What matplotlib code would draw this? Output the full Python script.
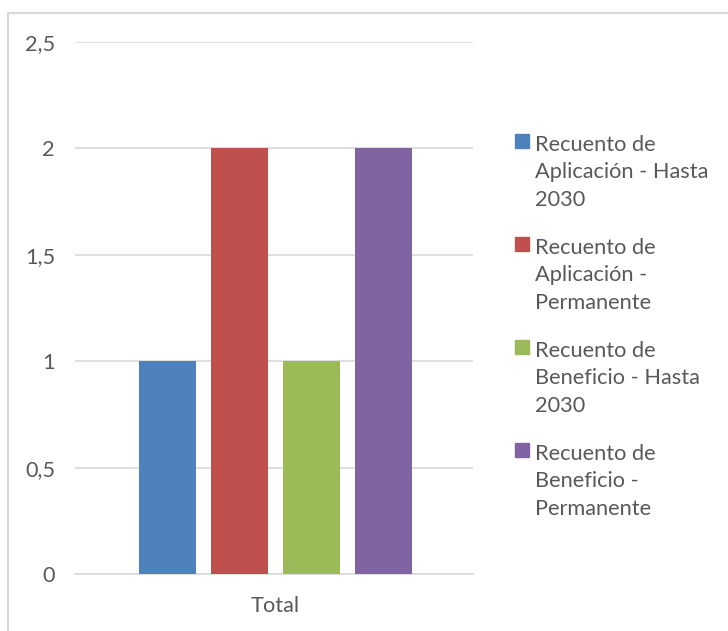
import matplotlib
matplotlib.use("Agg")
import matplotlib.pyplot as plt
from matplotlib.patches import Rectangle

categories = ["Total"]
series_names = [
    "Recuento de\nAplicación - Hasta\n2030",
    "Recuento de\nAplicación -\nPermanente",
    "Recuento de\nBeneficio - Hasta\n2030",
    "Recuento de\nBeneficio -\nPermanente",
]
values = [1, 2, 1, 2]
colors = ["#4f81bd", "#c0504d", "#9bbb59", "#8064a2"]
yticks = [0, 0.5, 1, 1.5, 2, 2.5]
ytick_labels = ["0", "0,5", "1", "1,5", "2", "2,5"]

plt.rcParams['font.family'] = ['Lato', 'DejaVu Sans']
W, H = 728, 631
fig = plt.figure(figsize=(W / 100, H / 100), dpi=100)
ax = fig.add_axes([75 / W, 1 - 574 / H, (473 - 75) / W, (574 - 42) / H])

txt = "#595959"
grid = "#d9d9d9"
fs = 15.7
n = len(values)
offsets = [i - (n - 1) / 2 for i in range(n)]
for off, v, c in zip(offsets, values, colors):
    ax.bar(off, v, width=57 / 72, color=c, zorder=3)

ax.set_xlim(-2.785, 2.743)
ax.set_ylim(0, 2.5)
ax.set_yticks(yticks)
ax.set_yticklabels(ytick_labels, color=txt, fontsize=fs)
ax.set_xticks([0])
ax.set_xticklabels(categories, color=txt, fontsize=fs)
ax.tick_params(axis='y', length=0, pad=14.4)
ax.tick_params(axis='x', length=0, pad=15.5)
ax.yaxis.grid(True, color=grid, linewidth=1.2, zorder=0)
for s in ["top", "right", "left"]:
    ax.spines[s].set_visible(False)
ax.spines["bottom"].set_color(grid)
ax.spines["bottom"].set_linewidth(1.2)

# legend (manual, squares aligned with first line)
top_y = 134
step = 103
line_px = 29
for i, (name, c) in enumerate(zip(series_names, colors)):
    y = top_y + i * step
    fig.patches.append(Rectangle((515 / W, 1 - (y + 14) / H), 14 / W, 14 / H,
                                 transform=fig.transFigure, color=c))
    nlines = name.count("\n")
    fig.text(535 / W, 1 - (y + 14 + nlines * line_px) / H, name, color=txt,
             fontsize=fs, va="baseline", ha="left", linespacing=1.47)

# chart border
fig.patches.append(Rectangle((7.5 / W, -0.1), 1.2, 1 - 12.5 / H + 0.1,
                             transform=fig.transFigure, fill=False,
                             edgecolor=grid, linewidth=1.5))

fig.savefig("out.png", dpi=100)
